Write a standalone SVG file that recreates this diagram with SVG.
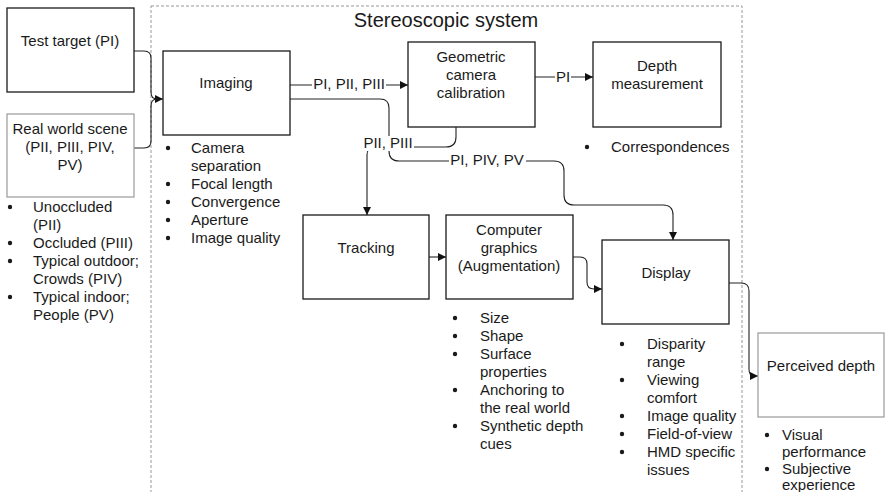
<svg xmlns="http://www.w3.org/2000/svg" width="885" height="492" viewBox="0 0 885 492">
<style>
text{font-family:"Liberation Sans",Arial,sans-serif;font-size:15px;fill:#1a1a1a}
.c{text-anchor:middle}
.t{font-size:20px}
.box{fill:#fff;stroke:#1a1a1a;stroke-width:1.3}
.gbox{fill:#fff;stroke:#999;stroke-width:1.2}
.ln{fill:none;stroke:#222;stroke-width:1.1}
.bg{fill:#fff}
.frame{fill:none;stroke:#999;stroke-width:1;stroke-dasharray:3 2}
.b{fill:#1a1a1a}
</style>
<defs>
<marker id="ar" viewBox="0 0 10 10" refX="10" refY="5" markerWidth="8" markerHeight="8" markerUnits="userSpaceOnUse" orient="auto">
<path d="M0,0 L10,5 L0,10 z" fill="#111"/>
</marker>
</defs>

<rect class="frame" x="151" y="6" width="591" height="500"/>
<text class="c t" x="446" y="27">Stereoscopic system</text>

<g id="connectors">
<path class="ln" d="M134,51 H144 Q151,51 151,58 V92 Q151,99 157,99 H163" marker-end="url(#ar)"/>
<path class="ln" d="M134,148 H144 Q151,148 151,141 V106 Q151,99 157,99"/>
<path class="ln" d="M290,85 H408" marker-end="url(#ar)"/>
<path class="ln" d="M290,99 H380 Q389,99 389,108 V151 Q389,161 399,161 H554 Q564,161 564,171 V195 Q564,205 574,205 H663 Q673,205 673,215 V240" marker-end="url(#ar)"/>
<path class="ln" d="M535,77 H593" marker-end="url(#ar)"/>
<path class="ln" d="M456,127 V137 Q456,147 446,147 H375 Q367,147 367,155 V215" marker-end="url(#ar)"/>
<path class="ln" d="M429,257 H446" marker-end="url(#ar)"/>
<path class="ln" d="M573,257 H580 Q587,257 587,264 V282 Q587,289 594,289 H602" marker-end="url(#ar)"/>
<path class="ln" d="M729,283 H741 Q749,283 749,291 V369 Q749,376 754,376 H758" marker-end="url(#ar)"/>
<rect class="bg" x="312" y="77" width="74" height="14"/>
<text class="c" x="349" y="89">PI, PII, PIII</text>
<rect class="bg" x="555" y="70" width="16" height="14"/>
<text class="c" x="563" y="82">PI</text>
<rect class="bg" x="361" y="136" width="53" height="15"/>
<text class="c" x="388" y="148">PII, PIII</text>
<rect class="bg" x="449" y="154" width="77" height="14"/>
<text class="c" x="487" y="165">PI, PIV, PV</text>
</g>

<g id="test-target">
<rect class="box" x="7" y="8" width="127" height="84"/>
<text class="c" x="70" y="46">Test target (PI)</text>
</g>

<g id="real-world-scene">
<rect class="gbox" x="7" y="114" width="127" height="83"/>
<text class="c" x="70" y="134">Real world scene</text>
<text class="c" x="70" y="152">(PII, PIII, PIV,</text>
<text class="c" x="70" y="170">PV)</text>
<circle class="b" cx="10" cy="207" r="2.2"/><text x="33" y="212">Unoccluded</text>
<text x="33" y="230">(PII)</text>
<circle class="b" cx="10" cy="243" r="2.2"/><text x="33" y="248">Occluded (PIII)</text>
<circle class="b" cx="10" cy="261" r="2.2"/><text x="33" y="266">Typical outdoor;</text>
<text x="33" y="284">Crowds (PIV)</text>
<circle class="b" cx="10" cy="297" r="2.2"/><text x="33" y="302">Typical indoor;</text>
<text x="33" y="320">People (PV)</text>
</g>

<g id="imaging">
<rect class="box" x="163" y="51" width="127" height="84"/>
<text class="c" x="226" y="88">Imaging</text>
<circle class="b" cx="168" cy="148" r="2.2"/><text x="191" y="153">Camera</text>
<text x="191" y="171">separation</text>
<circle class="b" cx="168" cy="184" r="2.2"/><text x="191" y="189">Focal length</text>
<circle class="b" cx="168" cy="202" r="2.2"/><text x="191" y="207">Convergence</text>
<circle class="b" cx="168" cy="220" r="2.2"/><text x="191" y="225">Aperture</text>
<circle class="b" cx="168" cy="238" r="2.2"/><text x="191" y="243">Image quality</text>
</g>

<g id="geometric-camera-calibration">
<rect class="box" x="408" y="42" width="127" height="85"/>
<text class="c" x="471" y="62">Geometric</text>
<text class="c" x="471" y="80">camera</text>
<text class="c" x="471" y="98">calibration</text>
</g>

<g id="depth-measurement">
<rect class="box" x="593" y="42" width="128" height="85"/>
<text class="c" x="657" y="71">Depth</text>
<text class="c" x="657" y="89">measurement</text>
<circle class="b" cx="587" cy="147" r="2.2"/><text x="611" y="152">Correspondences</text>
</g>

<g id="tracking">
<rect class="box" x="303" y="215" width="126" height="84"/>
<text class="c" x="366" y="253">Tracking</text>
</g>

<g id="computer-graphics">
<rect class="box" x="446" y="215" width="127" height="84"/>
<text class="c" x="509" y="235">Computer</text>
<text class="c" x="509" y="253">graphics</text>
<text class="c" x="509" y="271">(Augmentation)</text>
<circle class="b" cx="455" cy="318" r="2.2"/><text x="480" y="323">Size</text>
<circle class="b" cx="455" cy="336" r="2.2"/><text x="480" y="341">Shape</text>
<circle class="b" cx="455" cy="354" r="2.2"/><text x="480" y="359">Surface</text>
<text x="480" y="377">properties</text>
<circle class="b" cx="455" cy="390" r="2.2"/><text x="480" y="395">Anchoring to</text>
<text x="480" y="413">the real world</text>
<circle class="b" cx="455" cy="426" r="2.2"/><text x="480" y="431">Synthetic depth</text>
<text x="480" y="449">cues</text>
</g>

<g id="display">
<rect class="box" x="602" y="240" width="127" height="84"/>
<text class="c" x="666" y="278">Display</text>
<circle class="b" cx="622" cy="344" r="2.2"/><text x="647" y="349">Disparity</text>
<text x="647" y="367">range</text>
<circle class="b" cx="622" cy="380" r="2.2"/><text x="647" y="385">Viewing</text>
<text x="647" y="403">comfort</text>
<circle class="b" cx="622" cy="416" r="2.2"/><text x="647" y="421">Image quality</text>
<circle class="b" cx="622" cy="434" r="2.2"/><text x="647" y="439">Field-of-view</text>
<circle class="b" cx="622" cy="452" r="2.2"/><text x="647" y="457">HMD specific</text>
<text x="647" y="475">issues</text>
</g>

<g id="perceived-depth">
<rect class="gbox" x="758" y="333" width="126" height="84"/>
<text class="c" x="821" y="371">Perceived depth</text>
<circle class="b" cx="767" cy="435" r="2.2"/><text x="782" y="440">Visual</text>
<text x="782" y="457">performance</text>
<circle class="b" cx="767" cy="469" r="2.2"/><text x="782" y="474">Subjective</text>
<text x="782" y="490">experience</text>
</g>
</svg>
